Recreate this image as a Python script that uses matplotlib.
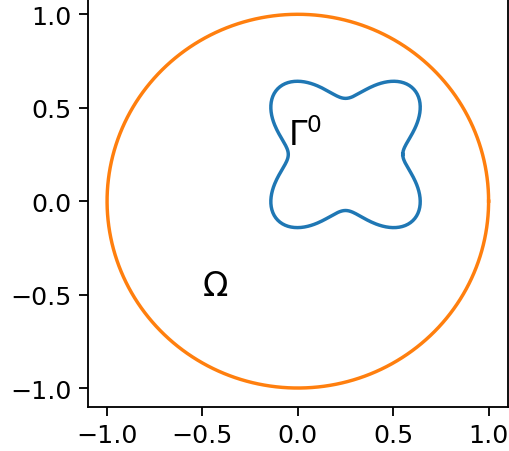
import numpy as np
import matplotlib
matplotlib.use("Agg")
import matplotlib.pyplot as plt

# domain boundary: unit circle
omega_center = (0.0, 0.0)
omega_radius = 1.0

# initial interface: four-lobed curve r(t) = r0 - amp*cos(4t)
gamma_center = (0.25, 0.25)
gamma_r0 = 0.4
gamma_amp = 0.1
gamma_lobes = 4

t = np.linspace(0, 2 * np.pi, 400)

omega_x = omega_center[0] + omega_radius * np.cos(t)
omega_y = omega_center[1] + omega_radius * np.sin(t)

r = gamma_r0 - gamma_amp * np.cos(gamma_lobes * t)
gamma_x = gamma_center[0] + r * np.cos(t)
gamma_y = gamma_center[1] + r * np.sin(t)

# everything scaled up from the defaults
s = 1.65
plt.rcParams.update({
    "font.size": 11 * s,
    "lines.linewidth": 1.5 * s,
    "axes.linewidth": 0.8 * s,
    "xtick.major.size": 3.9 * s,
    "ytick.major.size": 3.9 * s,
    "xtick.major.width": 0.8 * s,
    "ytick.major.width": 0.8 * s,
    "xtick.major.pad": 3.3 * s,
    "ytick.major.pad": 3.3 * s,
})

fig = plt.figure(figsize=(5.09, 4.52), dpi=100)
ax = fig.add_axes([0.1729, 0.098, 0.8245, 0.9095])

ax.plot(gamma_x, gamma_y)
ax.plot(omega_x, omega_y)

ax.text(-0.05, 0.3, r"$\Gamma^0$", fontsize=14.5 * s)
ax.text(-0.5, -0.5, r"$\Omega$", fontsize=14.5 * s)

ax.set_xticks([-1.0, -0.5, 0.0, 0.5, 1.0])
ax.set_yticks([-1.0, -0.5, 0.0, 0.5, 1.0])

fig.savefig("out.png", dpi=100)
